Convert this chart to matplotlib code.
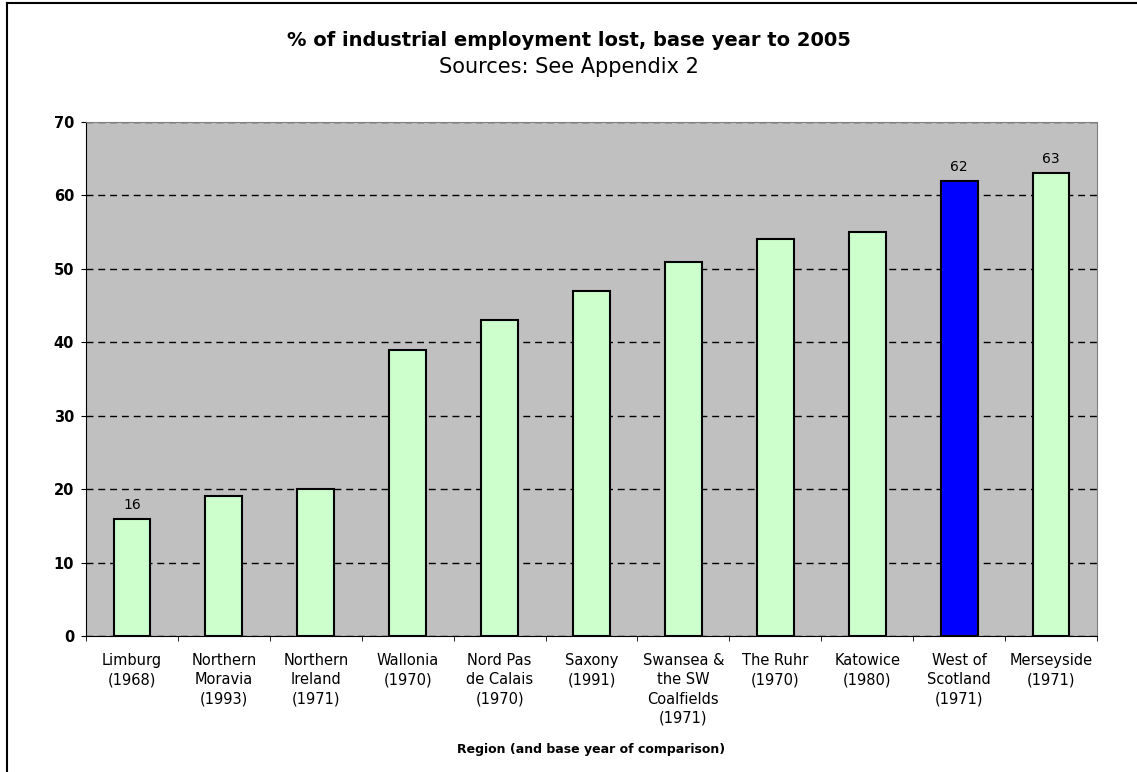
import numpy as np
import matplotlib.pyplot as plt
from matplotlib.lines import Line2D

plt.rcParams['font.family'] = ['DejaVu Sans']

# --- dane ---
regions = ["Limburg\n(1968)", "Northern\nMoravia\n(1993)", "Northern\nIreland\n(1971)",
           "Wallonia\n(1970)", "Nord Pas\nde Calais\n(1970)", "Saxony\n(1991)",
           "Swansea &\nthe SW\nCoalfields\n(1971)", "The Ruhr\n(1970)", "Katowice\n(1980)",
           "West of\nScotland\n(1971)", "Merseyside\n(1971)"]
pct_lost = [16, 19, 20, 39, 43, 47, 51, 54, 55, 62, 63]
labelled = ["Limburg\n(1968)", "West of\nScotland\n(1971)", "Merseyside\n(1971)"]
highlight = "West of\nScotland\n(1971)"

W, H = 1137, 772
fig = plt.figure(figsize=(W / 100, H / 100), dpi=100)
ax = fig.add_axes([86 / W, 1 - 636 / H, (1097 - 86) / W, (636 - 122) / H])
ax.set_facecolor("#C0C0C0")

x = np.arange(len(regions))
colors = ["#0000FF" if r == highlight else "#CCFFCC" for r in regions]
bars = ax.bar(x, pct_lost, width=0.4, color=colors, edgecolor="black", linewidth=1.5, zorder=3)

# etykiety wartości tylko dla wybranych słupków
for b, r, v in zip(bars, regions, pct_lost):
    if r in labelled:
        ax.annotate(str(v), (b.get_x() + b.get_width() / 2, v), xytext=(0, 5),
                    textcoords="offset points", ha="center", va="bottom", fontsize=10)

ax.set_xlim(-0.5, len(regions) - 0.5)
ax.set_ylim(0, 70)
ax.set_yticks(range(0, 71, 10))
ax.yaxis.grid(True, color="black", linestyle=(0, (5, 3.5)), linewidth=1)
ax.set_axisbelow(True)

for lbl in ax.get_yticklabels():
    lbl.set_fontweight("bold")
ax.tick_params(axis="y", labelsize=10.5, length=3.6, direction="out", pad=5)

ax.set_xticks(x)
ax.set_xticklabels(regions, fontsize=10.5, linespacing=1.37)
ax.set_xticks(np.arange(-0.5, len(regions)), minor=True)
ax.tick_params(axis="x", which="major", length=0, pad=12)
ax.tick_params(axis="x", which="minor", length=3.6, direction="out")

ax.spines["top"].set_color("#808080")
ax.spines["right"].set_color("#808080")
ax.spines["left"].set_color("black")
ax.spines["bottom"].set_color("black")

fig.text(591 / W, 1 - 750 / H, "Region (and base year of comparison)",
         ha="center", va="center", fontsize=9, fontweight="bold")

fig.text(0.5, 1 - 46 / H, "% of industrial employment lost, base year to 2005",
         ha="center", va="baseline", fontsize=14, fontweight="bold")
fig.text(0.5, 1 - 73 / H, "Sources: See Appendix 2", ha="center", va="baseline", fontsize=15)

# ramka wykresu (góra i lewa krawędź)
fig.add_artist(Line2D([7 / W, 1], [1 - 3 / H, 1 - 3 / H], color="black", linewidth=1.5))
fig.add_artist(Line2D([7 / W, 7 / W], [0, 1 - 3 / H], color="black", linewidth=1.5))

fig.savefig("out.png", dpi=100)
